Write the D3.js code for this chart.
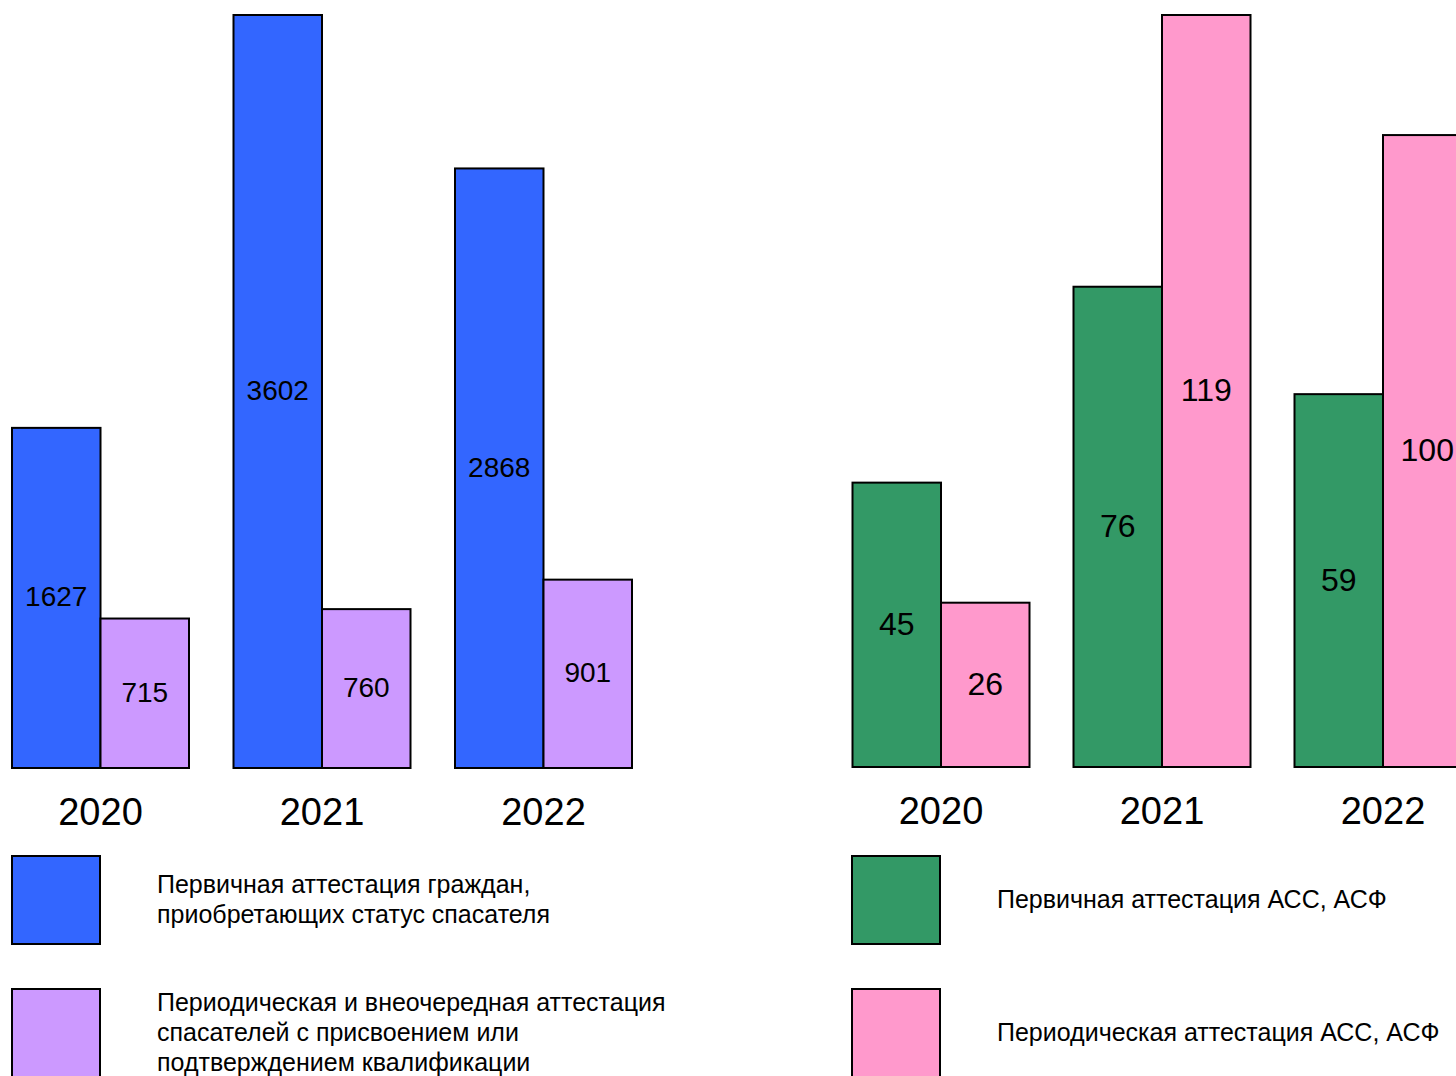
<!DOCTYPE html>
<html>
<head>
<meta charset="utf-8">
<script src="https://cdn.jsdelivr.net/npm/d3@7"></script>
<style>
  body { margin: 0; background: #fff; }
  svg { display: block; font-family: "Liberation Sans", Arial, sans-serif; }
</style>
</head>
<body>
<script>
// years on both charts
var years = ['2020', '2021', '2022'];

// left chart: spasateli
var leftPrimary = [1627, 3602, 2868];
var leftPeriodic = [715, 760, 901];
var leftColors = ['#3366ff', '#cc99ff'];
var leftLegend = [
  ['Первичная аттестация граждан,', 'приобретающих статус спасателя'],
  ['Периодическая и внеочередная аттестация', 'спасателей с присвоением или', 'подтверждением квалификации']
];

// right chart: ASS, ASF
var rightPrimary = [45, 76, 59];
var rightPeriodic = [26, 119, 100];
var rightColors = ['#339966', '#ff99cc'];
var rightLegend = [
  ['Первичная аттестация АСС, АСФ'],
  ['Периодическая аттестация АСС, АСФ']
];

var width = 1456;
var height = 1076;

var svg = d3.select('body')
            .append('svg')
            .attr('width', width)
            .attr('height', height);

var drawChart = function(opts) {
  var rows = years.map(function(y, i) {
    return {year: y, values: [opts.a[i], opts.b[i]]};
  });

  var x = d3.scalePoint()
            .domain(years)
            .range(opts.xRange);

  var inner = d3.scaleBand()
                .domain([0, 1])
                .range([-88.5, 88.5]);

  var y = d3.scaleLinear()
            .domain([0, opts.max])
            .range([opts.base, 15]);

  var g = svg.append('g');

  var groups = g.selectAll('g.year')
                .data(rows)
                .enter()
                .append('g')
                .attr('class', 'year')
                .attr('transform', function(d) {
                  return 'translate(' + x(d.year) + ',0)';
                });

  var bars = groups.selectAll('g.bar')
                   .data(function(d) {
                     return d.values.map(function(v, i) { return {i: i, v: v}; });
                   })
                   .enter()
                   .append('g')
                   .attr('class', 'bar');

  bars.append('rect')
      .attr('x', function(d) { return inner(d.i); })
      .attr('y', function(d) { return y(d.v); })
      .attr('width', inner.bandwidth())
      .attr('height', function(d) { return opts.base - y(d.v); })
      .attr('fill', function(d) { return opts.colors[d.i]; })
      .attr('stroke', '#000')
      .attr('stroke-width', 2);

  bars.append('text')
      .attr('x', function(d) { return inner(d.i) + inner.bandwidth() / 2; })
      .attr('y', function(d) { return (y(d.v) + opts.base) / 2 - 1; })
      .attr('text-anchor', 'middle')
      .attr('dominant-baseline', 'central')
      .attr('font-size', opts.labelSize)
      .text(function(d) { return d.v; });

  // year labels under groups
  groups.append('text')
        .attr('y', opts.base + 57)
        .attr('text-anchor', 'middle')
        .attr('font-size', 38)
        .text(function(d) { return d.year; });

  // legend
  var legend = g.selectAll('g.legend')
                .data(opts.legend)
                .enter()
                .append('g')
                .attr('class', 'legend')
                .attr('transform', function(d, i) {
                  return 'translate(' + opts.legendX + ',' + (856 + i * 133) + ')';
                });

  legend.append('rect')
        .attr('width', 88)
        .attr('height', 88)
        .attr('fill', function(d, i) { return opts.colors[i]; })
        .attr('stroke', '#000')
        .attr('stroke-width', 2);

  legend.append('text')
        .attr('x', opts.legendTextDx)
        .attr('font-size', 25)
        .selectAll('tspan')
        .data(function(d) { return d; })
        .enter()
        .append('tspan')
        .attr('x', opts.legendTextDx)
        .attr('y', function(d, i, nodes) {
          var n = nodes.length;
          return 44 + 8 + (i - (n - 1) / 2) * 30;
        })
        .text(function(d) { return d; });
};

drawChart({
  a: leftPrimary, b: leftPeriodic, colors: leftColors,
  xRange: [100.5, 543.5], max: 3602, base: 768, labelSize: 28,
  legend: leftLegend, legendX: 12, legendTextDx: 145
});

drawChart({
  a: rightPrimary, b: rightPeriodic, colors: rightColors,
  xRange: [941, 1383], max: 119, base: 767, labelSize: 32,
  legend: rightLegend, legendX: 852, legendTextDx: 145
});
</script>
</body>
</html>
